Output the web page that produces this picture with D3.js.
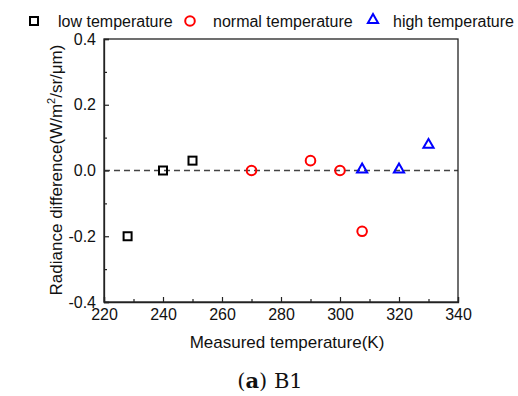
<!DOCTYPE html>
<html><head><meta charset="utf-8">
<script src="https://cdn.jsdelivr.net/npm/d3@7"></script>
<style>body{margin:0;background:#fff}svg{display:block}</style>
</head><body>
<script>
const lowX = [228, 240, 250];
const lowY = [-0.2, 0.0, 0.03];
const normalX = [270, 290, 300, 307.5];
const normalY = [0.0, 0.03, 0.0, -0.185];
const highX = [307.5, 320, 330];
const highY = [0.0, 0.0, 0.075];
const xTicks = [220, 240, 260, 280, 300, 320, 340];
const yTicks = [-0.4, -0.2, 0.0, 0.2, 0.4];
const legendLabels = ["low temperature", "normal temperature", "high temperature"];

const W = 518, H = 396;
const svg = d3.select("body").append("svg").attr("width", W).attr("height", H);
const x = d3.scaleLinear().domain([220, 340]).range([104, 458]);
const y = d3.scaleLinear().domain([-0.4, 0.4]).range([302, 39]);
const font = "'Liberation Sans', Arial, sans-serif";

// zero dashed line
svg.append("line").attr("x1", x(220)).attr("x2", x(340)).attr("y1", y(0)).attr("y2", y(0))
  .attr("stroke", "#444").attr("stroke-width", 1.5).attr("stroke-dasharray", "6,4");

// frame
svg.append("rect").attr("x", x(220)).attr("y", y(0.4)).attr("width", x(340) - x(220)).attr("height", y(-0.4) - y(0.4))
  .attr("fill", "none").attr("stroke", "#222").attr("stroke-width", 1.3);

// axes
svg.append("g").attr("transform", `translate(0,${y(-0.4)})`)
  .call(d3.axisBottom(x).tickValues(xTicks).tickSize(-5).tickPadding(7).tickFormat(d3.format("d")));
svg.append("g").attr("transform", `translate(0,${y(-0.4)})`)
  .call(d3.axisBottom(x).tickValues(d3.range(230, 340, 20)).tickSize(-3).tickFormat(""))
  .call(g => g.select(".domain").remove());
const yAxis = svg.append("g").attr("transform", `translate(${x(220)},0)`)
  .call(d3.axisLeft(y).tickValues(yTicks).tickSize(-5).tickPadding(8).tickFormat(d3.format(".1f")));
svg.append("g").attr("transform", `translate(${x(220)},0)`)
  .call(d3.axisLeft(y).tickValues([-0.3, -0.1, 0.1, 0.3]).tickSize(-3).tickFormat(""))
  .call(g => g.select(".domain").remove());
svg.selectAll(".tick line").attr("stroke", "#222").attr("stroke-width", 1.2);
svg.selectAll(".domain").attr("stroke", "#222").attr("stroke-width", 1.3);
svg.selectAll(".tick text").attr("font-family", font).attr("font-size", 16).attr("fill", "#111");
yAxis.selectAll(".tick text").attr("dy", "0.32em").text(d => d === 0 ? "0.0" : d3.format(".1f")(d).replace("−", "-"));

// titles
svg.append("text").attr("x", 287).attr("y", 348).attr("text-anchor", "middle")
  .attr("font-family", font).attr("font-size", 17).attr("fill", "#111").text("Measured temperature(K)");
const yt = svg.append("text").attr("transform", `translate(62,170) rotate(-90)`).attr("text-anchor", "middle")
  .attr("font-family", font).attr("font-size", 17).attr("fill", "#111");
yt.append("tspan").text("Radiance difference(W/m");
yt.append("tspan").attr("dy", -7).attr("font-size", 11).text("2");
yt.append("tspan").attr("dy", 7).text("/sr/μm)");

// caption
const cap = svg.append("text").attr("x", 270).attr("y", 388).attr("text-anchor", "middle")
  .attr("font-family", "'DejaVu Serif', 'Liberation Serif', serif").attr("font-size", 21).attr("fill", "#111");
cap.append("tspan").text("(");
cap.append("tspan").attr("font-weight", "bold").text("a");
cap.append("tspan").text(") B1");

// markers
const sq = 8;
svg.append("g").selectAll("rect").data(lowX.map((d, i) => [d, lowY[i]])).join("rect")
  .attr("x", d => x(d[0]) - sq / 2).attr("y", d => y(d[1]) - sq / 2).attr("width", sq).attr("height", sq)
  .attr("fill", "none").attr("stroke", "#000").attr("stroke-width", 2);
svg.append("g").selectAll("circle").data(normalX.map((d, i) => [d, normalY[i]])).join("circle")
  .attr("cx", d => x(d[0])).attr("cy", d => y(d[1])).attr("r", 4.8)
  .attr("fill", "none").attr("stroke", "#f00").attr("stroke-width", 2);
const tri = d3.symbol().type(d3.symbolTriangle).size(45);
svg.append("g").selectAll("path").data(highX.map((d, i) => [d, highY[i]])).join("path")
  .attr("d", tri).attr("transform", d => `translate(${x(d[0])},${y(d[1]) - 1})`)
  .attr("fill", "none").attr("stroke", "#00f").attr("stroke-width", 2);

// legend
const ly = 21;
svg.append("rect").attr("x", 30).attr("y", ly - 4).attr("width", 8).attr("height", 8)
  .attr("fill", "none").attr("stroke", "#000").attr("stroke-width", 2);
svg.append("circle").attr("cx", 190).attr("cy", ly).attr("r", 4.8)
  .attr("fill", "none").attr("stroke", "#f00").attr("stroke-width", 2);
svg.append("path").attr("d", tri).attr("transform", `translate(373,${ly - 1})`)
  .attr("fill", "none").attr("stroke", "#00f").attr("stroke-width", 2);
const lx = [58, 213, 393];
legendLabels.forEach((t, i) => {
  svg.append("text").attr("x", lx[i]).attr("y", ly + 6).attr("font-family", font).attr("font-size", 16)
    .attr("fill", "#111").text(t);
});
</script>
</body></html>
